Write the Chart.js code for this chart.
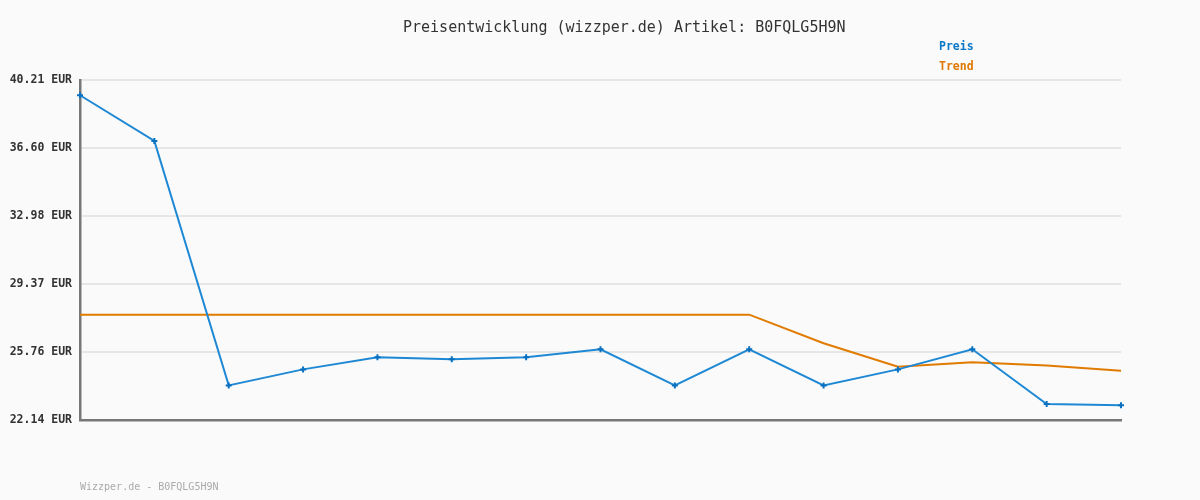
<!DOCTYPE html>
<html>
<head>
<meta charset="utf-8">
<script src="https://cdn.jsdelivr.net/npm/chart.js@4/dist/chart.umd.min.js"></script>
<style>
  html, body { margin: 0; padding: 0; background: #fafafa; }
  #wrap { width: 1200px; height: 500px; }
</style>
</head>
<body>
<div id="wrap"><canvas id="priceChart" width="1200" height="500"></canvas></div>
<script>
const titleText = 'Preisentwicklung (wizzper.de) Artikel: B0FQLG5H9N';
const footerText = 'Wizzper.de - B0FQLG5H9N';
const dates = ['1', '2', '3', '4', '5', '6', '7', '8', '9', '10', '11', '12', '13', '14', '15'];
const preis = [39.40, 36.97, 23.98, 24.83, 25.47, 25.37, 25.47, 25.90, 23.98, 25.90, 23.98, 24.83, 25.90, 22.99, 22.92];
const trend = [27.74, 27.74, 27.74, 27.74, 27.74, 27.74, 27.74, 27.74, 27.74, 27.74, 26.22, 24.97, 25.21, 25.03, 24.76];
const yTicks = [22.14, 25.76, 29.37, 32.98, 36.60, 40.21];

const MONO = '"DejaVu Sans Mono", "Liberation Mono", monospace';

// Titel, Legende und Fußzeile selbst zeichnen
const textPlugin = {
  id: 'texts',
  afterDraw(c) {
    const ctx = c.ctx;
    ctx.save();
    ctx.textBaseline = 'middle';
    ctx.textAlign = 'left';
    ctx.fillStyle = '#333';
    ctx.font = '15px ' + MONO;
    ctx.fillText(titleText, 403, 28);

    ctx.font = 'bold 11.5px ' + MONO;
    ctx.fillStyle = '#0a78c8';
    ctx.fillText('Preis', 939, 47);
    ctx.fillStyle = '#e07800';
    ctx.fillText('Trend', 939, 67);

    ctx.font = '10px ' + MONO;
    ctx.fillStyle = '#aaa';
    ctx.fillText(footerText, 80, 487);
    ctx.restore();
  }
};

const ctx = document.getElementById('priceChart').getContext('2d');
new Chart(ctx, {
  type: 'line',
  data: {
    labels: dates,
    datasets: [
      {
        label: 'Trend',
        data: trend,
        borderColor: '#e07b00',
        borderWidth: 2,
        pointRadius: 0,
        tension: 0,
        order: 2
      },
      {
        label: 'Preis',
        data: preis,
        borderColor: '#1e88d4',
        backgroundColor: '#0a70c0',
        borderWidth: 2,
        pointStyle: 'cross',
        pointRadius: 3,
        pointBorderColor: '#0a70c0',
        pointBorderWidth: 2,
        tension: 0,
        order: 1
      }
    ]
  },
  options: {
    responsive: false,
    animation: false,
    layout: { padding: { left: 0, right: 79, top: 80, bottom: 80 } },
    plugins: {
      legend: { display: false },
      title: { display: false },
      tooltip: { enabled: false }
    },
    scales: {
      x: {
        offset: false,
        grid: { display: false },
        border: { display: true, color: '#777', width: 2.5 },
        ticks: { display: false },
        afterFit(scale) { scale.height = 0; }
      },
      y: {
        min: yTicks[0],
        max: yTicks[yTicks.length - 1],
        afterBuildTicks(scale) { scale.ticks = yTicks.map(v => ({ value: v })); },
        afterFit(scale) { scale.width = 80; },
        grid: { color: '#e6e6e6', lineWidth: 2, drawTicks: false },
        border: { display: true, color: '#777', width: 2.5 },
        ticks: {
          padding: 8,
          color: '#333',
          font: { family: MONO, size: 11.5, weight: 'bold' },
          callback: v => v.toFixed(2) + ' EUR'
        }
      }
    }
  },
  plugins: [textPlugin]
});
</script>
</body>
</html>
